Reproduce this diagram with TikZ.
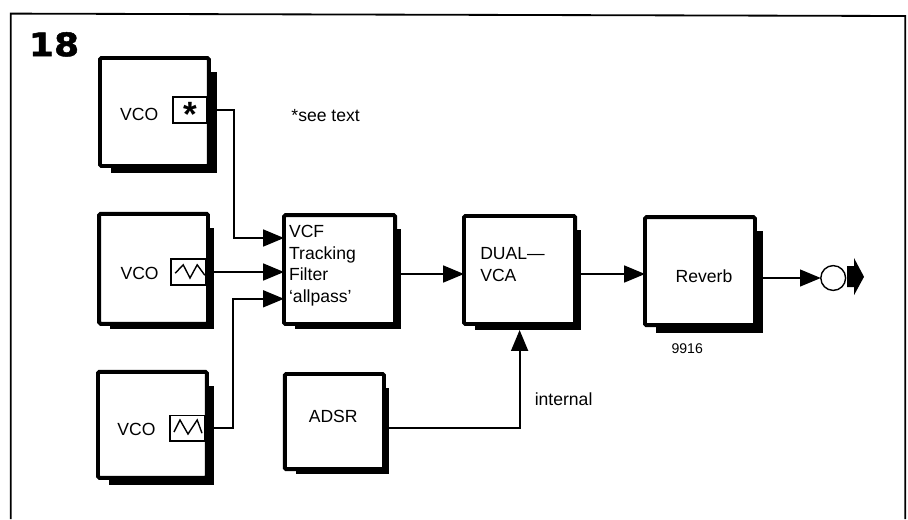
\documentclass[tikz,border=0pt]{standalone}
\usepackage{xcolor}
\usepackage{fontspec}
\setmainfont{Liberation Sans}
\newfontfamily\figfont[BoldFont={DejaVu Sans Bold},BoldFeatures={FakeBold=1.5,FakeStretch=1.12}]{DejaVu Sans}
\usepackage{tikz}
\usetikzlibrary{arrows.meta}
\tikzset{
  blockbox/.style={draw, line width=2.8pt, rounded corners=1pt, outer sep=0pt, inner sep=0pt},
  outbox/.style={draw, line width=0.9pt, outer sep=0pt, inner sep=0pt},
  labeltext/.style={inner sep=0pt, font=\fontsize{12.5}{15.4}\selectfont},
  smalltext/.style={inner sep=0pt, font=\fontsize{10}{12}\selectfont},
  wire/.style={line width=1.4pt, -{Triangle[length=0.52cm,width=0.42cm]}},
}
\begin{document}
\begin{tikzpicture}
\useasboundingbox (0,0) rectangle (22.7,-12.975);
\draw[line width=1.3pt] (0.27,-12.975) -- (0.27,-0.34) -- (22.63,-0.4) -- (22.63,-12.975);
\node[inner sep=0pt, font=\figfont\bfseries\fontsize{23}{23}\selectfont] (fignum) at (1.35,-1.11) {18};

% blocks
\node[blockbox, minimum width=2.72cm, minimum height=2.7cm] (vco1) at (3.86,-2.8) {};
\node[blockbox, minimum width=2.72cm, minimum height=2.75cm] (vco2) at (3.84,-6.72) {};
\node[blockbox, minimum width=2.72cm, minimum height=2.65cm] (vco3) at (3.81,-10.62) {};
\node[blockbox, minimum width=2.78cm, minimum height=2.72cm] (vcf) at (8.49,-6.74) {};
\node[blockbox, minimum width=2.48cm, minimum height=2.38cm] (adsr) at (8.36,-10.54) {};
\node[blockbox, minimum width=2.78cm, minimum height=2.7cm] (dual) at (12.99,-6.75) {};
\node[blockbox, minimum width=2.75cm, minimum height=2.7cm] (reverb) at (17.5,-6.78) {};
\foreach \n/\dx/\dy in {vco1/0.2/0.18, vco2/0.15/0.13, vco3/0.18/0.18, vcf/0.15/0.13, adsr/0.13/0.13, dual/0.15/0.15, reverb/0.2/0.2} {
  \fill ([xshift=0.28cm]\n.south west) rectangle ([xshift=\dx cm,yshift=-\dy cm]\n.south east);
  \fill ([yshift=-0.35cm]\n.north east) rectangle ([xshift=\dx cm,yshift=-\dy cm]\n.south east);
}

% output boxes on the oscillators
\node[outbox, minimum width=0.85cm, minimum height=0.65cm] (vco1out) at (4.75,-2.75) {};
\node[outbox, minimum width=0.875cm, minimum height=0.65cm] (vco2out) at (4.71,-6.8) {};
\node[outbox, minimum width=0.875cm, minimum height=0.63cm] (vco3out) at (4.69,-10.71) {};
\node[inner sep=0pt, font=\bfseries\fontsize{25}{25}\selectfont] (star) at (4.75,-2.87) {*};
\draw[line width=1pt] (4.38,-6.83) -- (4.58,-6.62) -- (4.75,-6.95) -- (4.93,-6.62) -- (5.12,-6.88);
\draw[line width=1pt] (4.35,-10.8) -- (4.5,-10.5) -- (4.7,-10.85) -- (4.93,-10.5) -- (5.05,-10.83);

% labels
\node[labeltext] (vco1text) at (3.48,-2.85) {VCO};
\node[labeltext] (vco2text) at (3.49,-6.83) {VCO};
\node[labeltext] (vco3text) at (3.41,-10.73) {VCO};
\node[labeltext, anchor=west, align=left] (vcftext) at (7.22,-6.64) {VCF\\Tracking\\Filter\\`allpass'};
\node[labeltext] (adsrtext) at (8.33,-10.4) {ADSR};
\node[labeltext, anchor=west, align=left] (dualtext) at (12.0,-6.61) {DUAL---\\VCA};
\node[labeltext] (reverbtext) at (17.6,-6.9) {Reverb};
\node[smalltext] (partno) at (17.18,-8.72) {9916};
\node[labeltext] (internal) at (14.09,-9.98) {internal};
\node[labeltext] (seetext) at (8.14,-2.88) {*see text};

% output jack
\node[draw, circle, line width=1pt, minimum size=0.62cm, inner sep=0pt, outer sep=0pt] (jack) at (20.83,-6.95) {};
\fill (21.18,-6.65) -- (21.35,-6.65) -- (21.35,-6.45) -- (21.6,-6.92) -- (21.35,-7.38) -- (21.35,-7.18) -- (21.18,-7.18) -- cycle;

% connections
\draw[wire] (vco1out.east) -- ++(0.67,0) |- ([yshift=0.79cm]vcf.west);
\draw[wire] (vco2out.east) -- ([yshift=-0.06cm]vcf.west);
\draw[wire] (vco3out.east) -- ++(0.7,0) |- ([yshift=-0.73cm]vcf.west);
\draw[wire] ([yshift=-0.11cm]vcf.east) -- ([yshift=-0.1cm]dual.west);
\draw[wire] ([yshift=-0.1cm]dual.east) -- ([yshift=-0.07cm]reverb.west);
\draw[wire] ([yshift=-0.17cm]reverb.east) -- (jack.west);
\draw[wire] ([yshift=-0.16cm]adsr.east) -| ([yshift=-0.15cm]dual.south);
\end{tikzpicture}
\end{document}
